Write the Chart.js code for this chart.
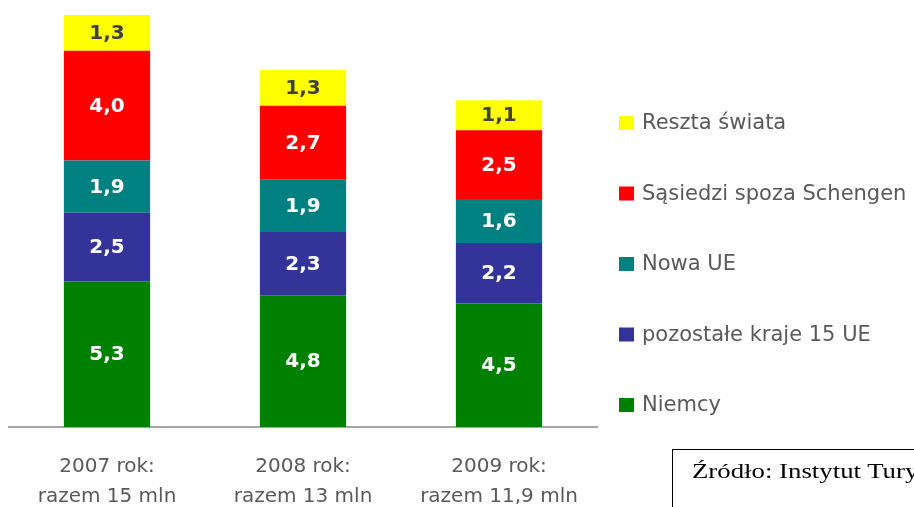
<!DOCTYPE html>
<html>
<head>
<meta charset="utf-8">
<script src="https://cdn.jsdelivr.net/npm/chart.js@4"></script>
<style>
  html, body { margin: 0; padding: 0; background: #fff; overflow: hidden; }
  #wrap { position: relative; width: 914px; height: 507px; }
  #chart { position: absolute; left: 0; top: 0; }
  #source {
    position: absolute; left: 672px; top: 449px; width: 400px; height: 90px;
    border: 1px solid #000; box-sizing: border-box;
    font-family: "Liberation Serif", serif; font-size: 20px; color: #000;
    padding: 10px 0 0 19px; white-space: nowrap;
  }
  #source span { display: inline-block; transform: scaleX(1.34); transform-origin: left center; }
</style>
</head>
<body>
<div id="wrap">
  <canvas id="chart" width="914" height="507"></canvas>
  <div id="source"><span>Źródło: Instytut Turystyki</span></div>
</div>
<script>
// kategorie (lata) i podpisy osi
const years = ['2007 rok:', '2008 rok:', '2009 rok:'];
const totals = ['razem 15 mln', 'razem 13 mln', 'razem 11,9 mln'];

// wartości w mln, od dołu słupka
const niemcy = [5.3, 4.8, 4.5];
const pozostale15 = [2.5, 2.3, 2.2];
const nowaUE = [1.9, 1.9, 1.6];
const sasiedzi = [4.0, 2.7, 2.5];
const reszta = [1.3, 1.3, 1.1];

const FONT = '"DejaVu Sans", sans-serif';

// wartości na segmentach
const valueLabels = {
    id: 'valueLabels',
    afterDatasetsDraw(chart) {
        const ctx = chart.ctx;
        ctx.save();
        ctx.font = 'bold 20px ' + FONT;
        ctx.textAlign = 'center';
        ctx.textBaseline = 'middle';
        chart.data.datasets.forEach((ds, i) => {
            const meta = chart.getDatasetMeta(i);
            meta.data.forEach((bar, j) => {
                ctx.fillStyle = ds.labelColor;
                const txt = ds.data[j].toFixed(1).replace('.', ',');
                ctx.fillText(txt, bar.x, (bar.y + bar.base) / 2 + 1);
            });
        });
        ctx.restore();
    }
};

// legenda po prawej, odwrócona kolejność
const sideLegend = {
    id: 'sideLegend',
    afterDraw(chart) {
        const ctx = chart.ctx;
        ctx.save();
        ctx.font = '21px ' + FONT;
        ctx.textBaseline = 'middle';
        const ds = chart.data.datasets.slice().reverse();
        ds.forEach((d, i) => {
            const y = 123 + i * 70.5;
            ctx.fillStyle = d.backgroundColor;
            ctx.fillRect(619, y - 7, 15, 14);
            ctx.fillStyle = '#595959';
            ctx.fillText(d.label, 642, y + 1);
        });
        ctx.restore();
    }
};

new Chart(document.getElementById('chart'), {
    type: 'bar',
    data: {
        labels: years.map((y, i) => [y, totals[i]]),
        datasets: [
            { label: 'Niemcy', data: niemcy, backgroundColor: '#008000', labelColor: '#ffffff' },
            { label: 'pozostałe kraje 15 UE', data: pozostale15, backgroundColor: '#333399', labelColor: '#ffffff' },
            { label: 'Nowa UE', data: nowaUE, backgroundColor: '#008080', labelColor: '#ffffff' },
            { label: 'Sąsiedzi spoza Schengen', data: sasiedzi, backgroundColor: '#ff0000', labelColor: '#ffffff' },
            { label: 'Reszta świata', data: reszta, backgroundColor: '#ffff00', labelColor: '#404040' }
        ]
    },
    options: {
        responsive: false,
        animation: false,
        layout: { padding: { left: 9, right: 317, top: 15, bottom: 0 } },
        datasets: { bar: { categoryPercentage: 1, barPercentage: 0.44, borderWidth: 0 } },
        plugins: { legend: { display: false }, tooltip: { enabled: false } },
        scales: {
            x: {
                stacked: true,
                grid: { display: false, drawTicks: false, tickLength: 0 },
                border: { display: true, color: '#a6a6a6', width: 2 },
                ticks: {
                    autoSkip: false, maxRotation: 0, padding: 25,
                    color: '#595959',
                    font: { family: FONT, size: 20, lineHeight: 30 / 20 }
                },
                afterFit: s => { s.height = 80; }
            },
            y: { stacked: true, display: false, min: 0, max: 15 }
        }
    },
    plugins: [valueLabels, sideLegend]
});
</script>
</body>
</html>
